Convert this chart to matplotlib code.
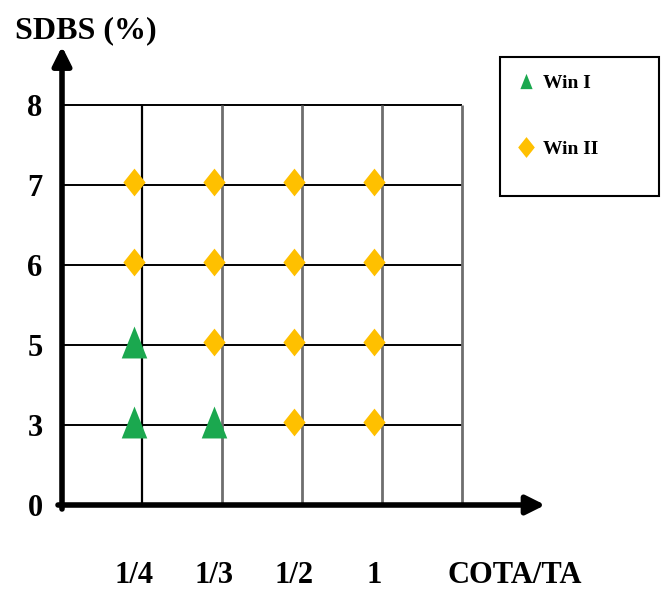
import numpy as np
import matplotlib
matplotlib.use("Agg")
import matplotlib.pyplot as plt
from matplotlib.path import Path
from matplotlib.lines import Line2D
from matplotlib.patches import Rectangle

plt.rcParams['font.family'] = ['Liberation Serif', 'DejaVu Serif']
plt.rcParams['font.weight'] = 'bold'

# categories
x_labels = ['1/4', '1/3', '1/2', '1']
y_labels = ['0', '3', '5', '6', '7', '8']

# Win I points (COTA/TA, SDBS %)
win1_x = ['1/4', '1/4', '1/3']
win1_y = ['5', '3', '3']

# Win II points
win2_x = ['1/4', '1/4', '1/3', '1/3', '1/3', '1/2', '1/2', '1/2', '1/2', '1', '1', '1', '1']
win2_y = ['7', '6', '7', '6', '5', '7', '6', '5', '3', '7', '6', '5', '3']

green = '#1BA84F'
yellow = '#FFC000'

# marker shapes
tri = Path([(-0.8, -1), (0.8, -1), (0, 1), (-0.8, -1)])
dia = Path([(0, 1), (0.8, 0), (0, -1), (-0.8, 0), (0, 1)])

fig = plt.figure(figsize=(6.62, 5.92), dpi=100)
ax = fig.add_axes([62/662, 87/592, 480/662, 457/592])
ax.set_xlim(0, 6)
ax.set_ylim(0, 457/80)

nx = len(x_labels) + 1
ny = len(y_labels) - 1
# grid
ax.hlines(np.arange(1, ny + 1), 0, nx, color='black', lw=1.4, zorder=1)
ax.vlines([1], 0, ny, color='black', lw=1.6, zorder=1)
ax.vlines(np.arange(2, nx + 1), 0, ny, color='#6e6e6e', lw=2.0, zorder=1)

dx = -0.1
dy = 0.04
def xi(v):
    return np.array([x_labels.index(s) + 1 for s in v]) + dx
def yi(v):
    return np.array([y_labels.index(s) for s in v]) + dy

ax.plot(xi(win1_x), yi(win1_y), ls='none', marker=tri, ms=23, color=green, mew=0, zorder=3)
ax.plot(xi(win2_x), yi(win2_y), ls='none', marker=dia, ms=20, color=yellow, mew=0, zorder=3)

# axes arrows
ax.annotate('', xy=(6.04, 0), xytext=(-0.05, 0),
            arrowprops=dict(arrowstyle='-|>', lw=4, color='black', mutation_scale=28, shrinkA=0, shrinkB=0),
            annotation_clip=False, zorder=4)
ax.annotate('', xy=(0, 457/80 + 0.02), xytext=(0, -0.05),
            arrowprops=dict(arrowstyle='-|>', lw=4, color='black', mutation_scale=28, shrinkA=0, shrinkB=0),
            annotation_clip=False, zorder=4)

for s in ax.spines.values():
    s.set_visible(False)

ax.set_yticks(np.arange(len(y_labels)), y_labels)
ax.set_xticks(np.arange(1, len(x_labels) + 1) + dx, x_labels)
ax.tick_params(axis='y', length=0, pad=14, labelsize=22)
ax.tick_params(axis='x', length=0, pad=40, labelsize=22)

ax.annotate('COTA/TA', xy=(5.66, 0), xytext=(0, -40), textcoords='offset points',
            ha='center', va='top', fontsize=22, fontweight='bold', annotation_clip=False)
fig.text(15/662, 1 - 31/592, 'SDBS (%)', ha='left', va='center', fontsize=23, fontweight='bold')

# legend
handles = [Line2D([], [], ls='none', marker=tri, ms=11, color=green, mew=0),
           Line2D([], [], ls='none', marker=dia, ms=15, color=yellow, mew=0)]
leg = ax.legend(handles, ['Win I', 'Win II'], loc='upper left',
                bbox_to_anchor=(518/662, 1 - 74/592), bbox_transform=fig.transFigure,
                frameon=False, fontsize=14, handlelength=0.8, handletextpad=0.5,
                labelspacing=2.5, borderpad=0, borderaxespad=0)
for t in leg.get_texts():
    t.set_fontweight('bold')
fig.patches.append(Rectangle((500/662, 1 - 196/592), 159/662, 139/592, transform=fig.transFigure,
                             fill=False, edgecolor='black', lw=1.5))

fig.savefig('out.png', dpi=100)
